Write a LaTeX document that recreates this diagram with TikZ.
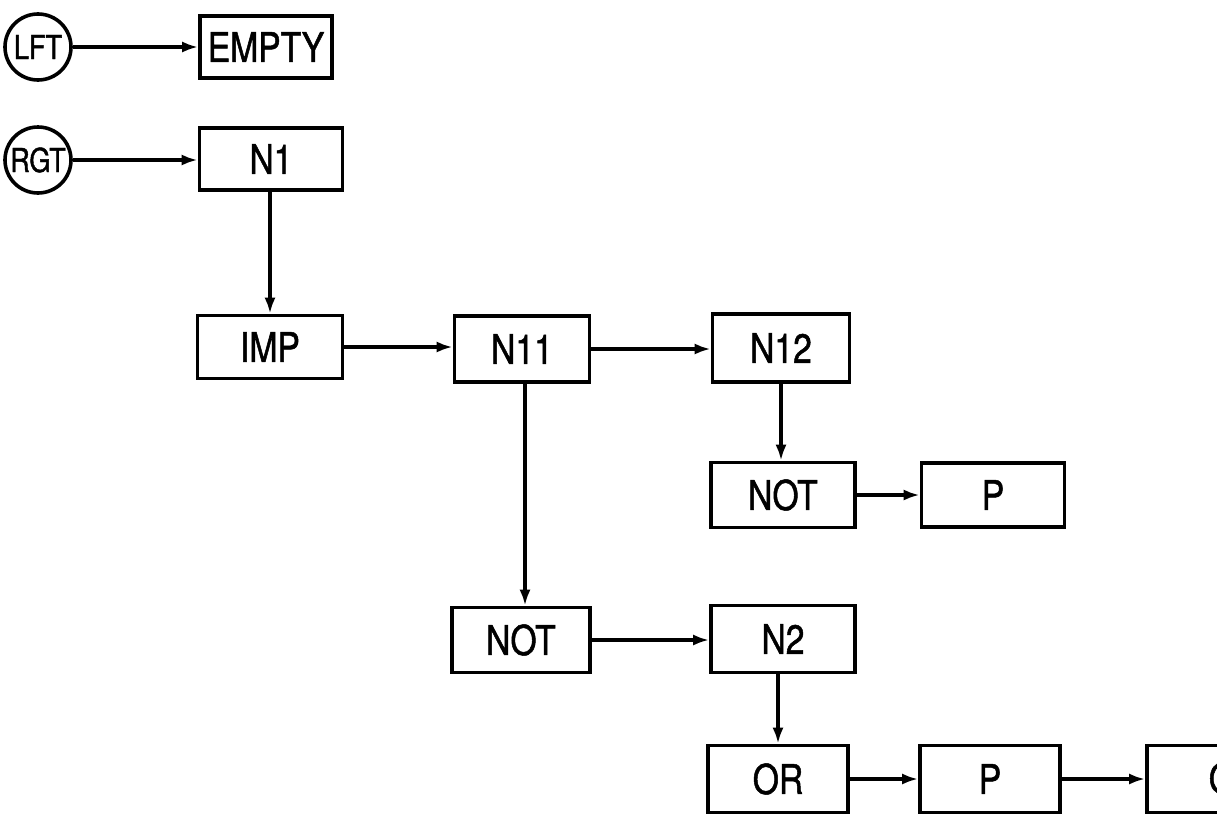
\documentclass[tikz,border=0pt]{standalone}
\usepackage{fontspec}
\setmainfont{TeX Gyre Heros}[FakeStretch=0.82,FakeBold=1.2]
\usetikzlibrary{arrows.meta}
\begin{document}
\begin{tikzpicture}[x=1pt,y=-1pt,
  box/.style={draw,line width=3.6pt,inner sep=0pt,font=\fontsize{41}{41}\selectfont},
  circ/.style={draw,circle,line width=3.6pt,minimum size=66pt,inner sep=0pt,font=\fontsize{33}{33}\selectfont},
  conn/.style={line width=3.2pt,-{Latex[length=16pt,width=11pt]}}]
\useasboundingbox (0,0) rectangle (1217,819);
\clip (0,0) rectangle (1217,819);
\fill[white] (0,0) rectangle (1217,819);
\node[circ] (lft) at (38,47) {LFT};
\node[box,minimum width=132pt,minimum height=62pt] (empty) at (266,47) {EMPTY};
\node[circ] (rgt) at (38,160) {RGT};
\node[box,minimum width=143pt,minimum height=62pt] (n1) at (271,159) {N1};
\node[box,minimum width=145pt,minimum height=63pt] (imp) at (270,347) {IMP};
\node[box,minimum width=135pt,minimum height=66pt] (n11) at (522,349) {N11};
\node[box,minimum width=137pt,minimum height=68pt] (n12) at (781,348) {N12};
\node[box,minimum width=144pt,minimum height=65pt] (not1) at (783,495) {NOT};
\node[box,minimum width=143pt,minimum height=64pt] (p1) at (993,495) {P};
\node[box,minimum width=138pt,minimum height=65pt] (not2) at (521,640) {NOT};
\node[box,minimum width=144pt,minimum height=67pt] (n2) at (783,639) {N2};
\node[box,minimum width=140pt,minimum height=67pt] (or) at (778,779) {OR};
\node[box,minimum width=140pt,minimum height=67pt] (p2) at (990,779) {P};
\node[box,minimum width=150pt,minimum height=67pt] (q) at (1222,779) {Q};
\draw[conn] (lft) -- (empty);
\draw[conn] (rgt) -- (n1.west |- rgt);
\draw[conn] (n1.south -| imp) -- (imp);
\draw[conn] (imp) -- (n11.west |- imp);
\draw[conn] (n11) -- (n12.west |- n11);
\draw[conn] (n12) -- (n12 |- not1.north);
\draw[conn] (not1) -- (p1);
\draw[conn] ([xshift=3pt]n11.south) -- ([xshift=3pt]n11.south |- not2.north);
\draw[conn] (not2) -- (n2.west |- not2);
\draw[conn] (n2.south -| or) -- (or);
\draw[conn] (or) -- (p2);
\draw[conn] (p2) -- (q);
\end{tikzpicture}
\end{document}
